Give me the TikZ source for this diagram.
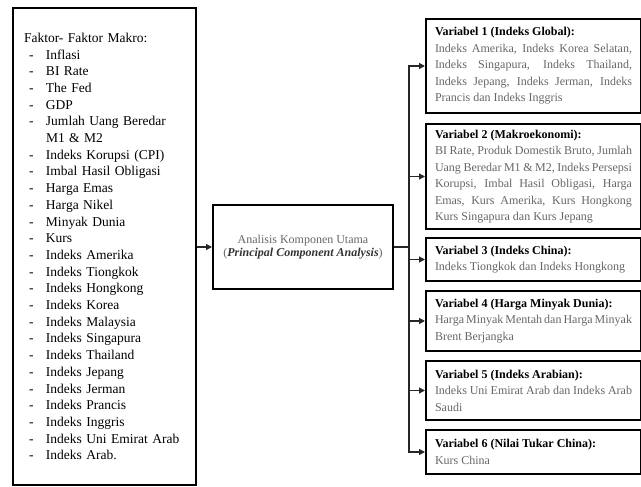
\documentclass[tikz,border=0pt]{standalone}
\usepackage{fontspec}
\setmainfont{Liberation Serif}
\usetikzlibrary{arrows.meta}
\definecolor{txtgray}{HTML}{666666}
\hyphenpenalty=10000
\tolerance=9999

% list entry of the left box
\newcommand{\litem}[1]{\hspace*{5pt}\makebox[17pt][l]{-}#1}
\newcommand{\vtitle}[1]{\textcolor{black}{\textbf{#1}}\\}

\begin{document}
\begin{tikzpicture}[x=1pt,y=-1pt,
    box/.style={draw=black, line width=2pt, rectangle, inner sep=0pt},
    varbox/.style={box, anchor=north west, text width=197pt, inner xsep=9pt,
      align=justify, text=txtgray, font=\fontsize{12}{16.5}\selectfont},
    line/.style={draw=black!85, line width=1.2pt},
    link/.style={line, -{Triangle[length=6pt,width=6pt]}}]
  \useasboundingbox (0,0) rectangle (641,487);

  % Macro factors
  \node[box, anchor=north west, minimum width=183pt, minimum height=477pt,
    text width=161pt, align=left, font=\fontsize{13.5}{16.7}\selectfont] (makro) at (12,7)
    {Faktor- Faktor Makro:\\
     \litem{Inflasi}\\
     \litem{BI Rate}\\
     \litem{The Fed}\\
     \litem{GDP}\\
     \litem{Jumlah Uang Beredar}\\
     \hspace*{22pt}M1 \& M2\\
     \litem{Indeks Korupsi (CPI)}\\
     \litem{Imbal Hasil Obligasi}\\
     \litem{Harga Emas}\\
     \litem{Harga Nikel}\\
     \litem{Minyak Dunia}\\
     \litem{Kurs}\\
     \litem{Indeks Amerika}\\
     \litem{Indeks Tiongkok}\\
     \litem{Indeks Hongkong}\\
     \litem{Indeks Korea}\\
     \litem{Indeks Malaysia}\\
     \litem{Indeks Singapura}\\
     \litem{Indeks Thailand}\\
     \litem{Indeks Jepang}\\
     \litem{Indeks Jerman}\\
     \litem{Indeks Prancis}\\
     \litem{Indeks Inggris}\\
     \litem{Indeks Uni Emirat Arab}\\
     \litem{Indeks Arab.}};

  % PCA
  \node[box, minimum width=180pt, minimum height=84pt, align=center, text=txtgray,
    font=\fontsize{12}{13}\selectfont] (pca) at (303,247)
    {Analisis Komponen Utama\\(\textcolor{black!80}{\textbf{\textit{Principal Component Analysis}}})};

  % Resulting variables
  \node[varbox, minimum height=94pt] (var1) at (425,18)
    {\vtitle{Variabel 1 (Indeks Global):}Indeks Amerika, Indeks Korea Selatan, Indeks Singapura, Indeks Thailand, Indeks Jepang, Indeks Jerman, Indeks Prancis dan Indeks Inggris};
  \node[varbox, minimum height=105pt] (var2) at (425,123)
    {\vtitle{Variabel 2 (Makroekonomi):}BI Rate, Produk Domestik Bruto, Jumlah Uang Beredar M1 \& M2, Indeks Persepsi Korupsi, Imbal Hasil Obligasi, Harga Emas, Kurs Amerika, Kurs Hongkong Kurs Singapura dan Kurs Jepang};
  \node[varbox, minimum height=43pt] (var3) at (425,237)
    {\vtitle{Variabel 3 (Indeks China):}Indeks Tiongkok dan Indeks Hongkong};
  \node[varbox, minimum height=60pt] (var4) at (425,290)
    {\vtitle{Variabel 4 (Harga Minyak Dunia):}Harga Minyak Mentah dan Harga Minyak Brent Berjangka};
  \node[varbox, minimum height=59pt] (var5) at (425,360)
    {\vtitle{Variabel 5 (Indeks Arabian):}Indeks Uni Emirat Arab dan Indeks Arab Saudi};
  \node[varbox, minimum height=44pt] (var6) at (425,429)
    {\vtitle{Variabel 6 (Nilai Tukar China):}Kurs China};

  % Connectors
  \draw[link] (makro.east |- pca) -- (pca.west);
  \coordinate (split) at (409,247);
  \draw[line] (pca.east) -- (split);
  \foreach \v in {1,...,6}
    \draw[link] (split) |- (var\v.west);
\end{tikzpicture}
\end{document}
